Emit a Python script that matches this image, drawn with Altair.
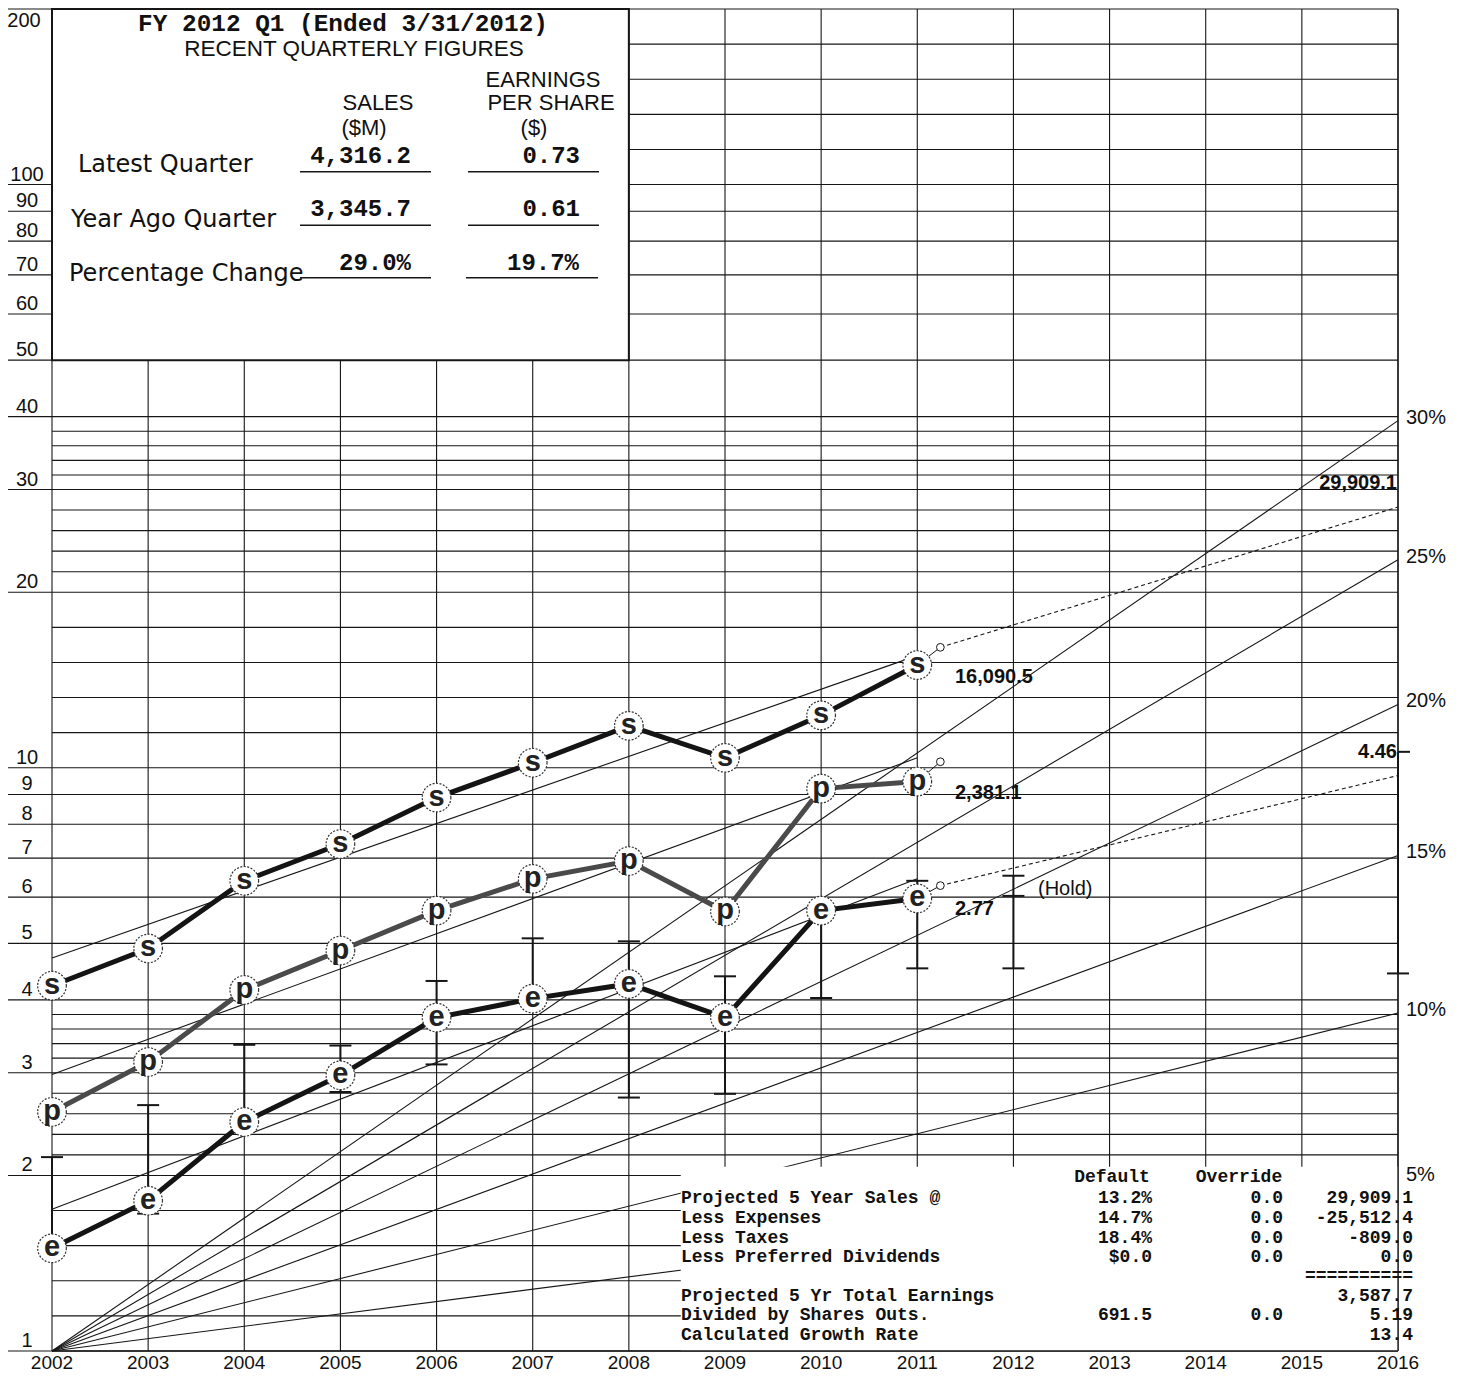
import altair as alt
import pandas as pd

# ---------------- data ----------------
years = [2002, 2003, 2004, 2005, 2006, 2007, 2008, 2009, 2010, 2011]
sales = [4.23, 4.90, 6.40, 7.40, 8.89, 10.2, 11.8, 10.4, 12.3, 15.0]
pretax = [2.57, 3.13, 4.16, 4.86, 5.69, 6.45, 6.92, 5.67, 9.21, 9.47]
eps = [1.50, 1.81, 2.47, 2.97, 3.73, 4.02, 4.26, 3.73, 5.69, 5.97]
price_high = [2.15, 2.64, 3.35, 3.34, 4.31, 5.10, 5.04, 4.39, 5.80, 6.40]
price_low = [1.55, 1.72, 2.50, 2.78, 3.10, 4.00, 2.72, 2.76, 4.03, 4.53]

hold_year = 2012
hold_ticks = [6.53, 6.03, 4.53]
proj_year = 2016
proj_range = [10.65, 4.44]

latest_x = 2011.24
latest_s, latest_p, latest_e = 16.09, 10.24, 6.28
proj_end_s, proj_end_e = 28.0, 9.7

trend_series = ["s", "p", "e"]
trend_start = [4.72, 2.98, 1.75]
trend_end = [15.57, 10.4, 6.45]

growth_rates = [5, 10, 15, 20, 25, 30]

axis_years = list(range(2002, 2017))
major_ticks = [1, 2, 3, 4, 5, 6, 7, 8, 9, 10, 20, 30, 40, 50, 60, 70, 80, 90, 100, 200]
sub_pairs = [(1, 2), (2, 3), (3, 4), (10, 20), (20, 30), (30, 40), (100, 200)]

# ---------------- layout helpers ----------------
W, H = 1346, 1342


def py(ry):
    return (ry - 3) * H / 1353.0


def px(rx):
    return rx - 52


xs = alt.Scale(domain=[2002, 2016], nice=False, zero=False)
ys = alt.Scale(type="log", domain=[1, 200], nice=False)


def X(f):
    return alt.X(f, type="quantitative", scale=xs, axis=None)


def Y(f):
    return alt.Y(f, type="quantitative", scale=ys, axis=None)


ONE = pd.DataFrame({"a": [0]})
INK = "#161616"
SANS = "Liberation Sans"
MONO = "Liberation Mono"
HUM = "DejaVu Sans"

layers = []

# ---------------- gridlines ----------------
grid_vals = list(major_ticks)
for a, b in sub_pairs:
    for k in range(1, 5):
        grid_vals.append(a * (b / a) ** (k / 5))
grid_df = pd.DataFrame({"v": grid_vals, "x0": 2002, "x1": 2016})

layers.append(
    alt.Chart(grid_df).mark_rule(color=INK, strokeWidth=1.1).encode(
        x=X("x0:Q"), x2="x1:Q", y=Y("v:Q"))
)
vgrid_df = pd.DataFrame({"x": axis_years, "y0": 1, "y1": 200, "lab": [str(y) for y in axis_years]})
layers.append(
    alt.Chart(vgrid_df).mark_rule(color=INK, strokeWidth=1.1).encode(
        x=X("x:Q"), y=Y("y0:Q"), y2="y1:Q")
)
layers.append(
    alt.Chart(vgrid_df).mark_text(align="center", baseline="top", fontSize=19, font=SANS,
                                  color="#111").encode(
        x=X("x:Q"), y=alt.value(H + 3), text="lab:N")
)

major_df = pd.DataFrame({"v": major_ticks, "lab": [str(m) for m in major_ticks]})
layers.append(
    alt.Chart(major_df).mark_rule(color=INK, strokeWidth=1.1).encode(
        x=alt.value(-44), x2=alt.value(0), y=Y("v:Q"))
)
layers.append(
    alt.Chart(major_df[major_df.v < 200]).mark_text(
        align="center", baseline="alphabetic", dy=-4, fontSize=20, font=SANS, color="#111"
    ).encode(x=alt.value(-25), y=Y("v:Q"), text="lab:N")
)
layers.append(
    alt.Chart(major_df[major_df.v == 200]).mark_text(
        align="center", baseline="top", dy=2, fontSize=20, font=SANS, color="#111"
    ).encode(x=alt.value(-28), y=Y("v:Q"), text="lab:N")
)

# ---------------- growth-rate rays ----------------
ray_rows = []
for r in growth_rates:
    ray_rows.append({"x": 2002, "v": 1.0, "rate": r})
    ray_rows.append({"x": 2016, "v": (1 + r / 100.0) ** 14, "rate": r})
ray_df = pd.DataFrame(ray_rows)
layers.append(
    alt.Chart(ray_df).mark_line(color=INK, strokeWidth=1.1).encode(
        x=X("x:Q"), y=Y("v:Q"), detail="rate:N")
)

# ---------------- trend lines ----------------
tr_rows = []
for sname, a, b in zip(trend_series, trend_start, trend_end):
    tr_rows.append({"x": 2002, "v": a, "ser": sname})
    tr_rows.append({"x": 2011, "v": b, "ser": sname})
layers.append(
    alt.Chart(pd.DataFrame(tr_rows)).mark_line(color=INK, strokeWidth=1.1).encode(
        x=X("x:Q"), y=Y("v:Q"), detail="ser:N")
)

# ---------------- projections (dotted) ----------------
pj_df = pd.DataFrame([
    {"x": latest_x, "v": latest_s, "ser": "s"}, {"x": 2016, "v": proj_end_s, "ser": "s"},
    {"x": latest_x, "v": latest_e, "ser": "e"}, {"x": 2016, "v": proj_end_e, "ser": "e"},
])
layers.append(
    alt.Chart(pj_df).mark_line(color=INK, strokeWidth=1.1, strokeDash=[4, 3]).encode(
        x=X("x:Q"), y=Y("v:Q"), detail="ser:N")
)

# ---------------- boxes ----------------
layers.append(
    alt.Chart(pd.DataFrame({"x0": [2002], "x1": [2008], "y0": [50], "y1": [200]})).mark_rect(
        fill="white", stroke=INK, strokeWidth=2).encode(
        x=X("x0:Q"), x2="x1:Q", y=Y("y0:Q"), y2="y1:Q")
)
layers.append(
    alt.Chart(pd.DataFrame({"x0": [2008.54], "x1": [2016], "y0": [1], "y1": [2.07]})).mark_rect(
        fill="white").encode(x=X("x0:Q"), x2="x1:Q", y=Y("y0:Q"), y2="y1:Q")
)
layers.append(
    alt.Chart(pd.DataFrame({"x": [2016], "y0": [1], "y1": [200]})).mark_rule(
        color=INK, strokeWidth=1.3).encode(x=X("x:Q"), y=Y("y0:Q"), y2="y1:Q")
)
layers.append(
    alt.Chart(pd.DataFrame({"x0": [2002], "x1": [2016], "v": [1]})).mark_rule(
        color=INK, strokeWidth=1.3).encode(x=X("x0:Q"), x2="x1:Q", y=Y("v:Q"))
)

# ---------------- price bars ----------------
bar_df = pd.DataFrame({"x": years, "lo": price_low, "hi": price_high})
layers.append(
    alt.Chart(bar_df).mark_rule(color=INK, strokeWidth=2).encode(
        x=X("x:Q"), y=Y("lo:Q"), y2="hi:Q")
)
cap_df = pd.DataFrame({"x": years * 2, "v": price_low + price_high})
hold_df = pd.DataFrame({"x": [hold_year] * 3, "v": hold_ticks})
cap_df = pd.concat([cap_df, hold_df, pd.DataFrame({"x": [proj_year], "v": [proj_range[1]]})])
layers.append(
    alt.Chart(cap_df).mark_rule(color=INK, strokeWidth=2, xOffset=-11, x2Offset=11).encode(
        x=X("x:Q"), x2="x:Q", y=Y("v:Q"))
)
layers.append(
    alt.Chart(pd.DataFrame({"x": [hold_year], "lo": [min(hold_ticks)], "hi": [max(hold_ticks)]})).mark_rule(
        color=INK, strokeWidth=2).encode(x=X("x:Q"), y=Y("lo:Q"), y2="hi:Q")
)
layers.append(
    alt.Chart(pd.DataFrame({"x": [proj_year], "lo": [proj_range[1]], "hi": [proj_range[0]]})).mark_rule(
        color=INK, strokeWidth=2).encode(x=X("x:Q"), y=Y("lo:Q"), y2="hi:Q")
)
layers.append(
    alt.Chart(pd.DataFrame({"x": [proj_year], "v": [proj_range[0]]})).mark_rule(
        color=INK, strokeWidth=2, xOffset=0, x2Offset=12).encode(x=X("x:Q"), x2="x:Q", y=Y("v:Q"))
)

# ---------------- series lines ----------------
series_df = pd.DataFrame({"x": years, "s": sales, "p": pretax, "e": eps})
for col, colr in [("s", "#141414"), ("p", "#4a4a4a"), ("e", "#141414")]:
    layers.append(
        alt.Chart(series_df).mark_line(color=colr, strokeWidth=5).encode(
            x=X("x:Q"), y=Y(f"{col}:Q"))
    )

# connectors to latest-quarter points
con_df = pd.DataFrame([
    {"x": 2011, "v": sales[-1], "ser": "s"}, {"x": latest_x, "v": latest_s, "ser": "s"},
    {"x": 2011, "v": pretax[-1], "ser": "p"}, {"x": latest_x, "v": latest_p, "ser": "p"},
    {"x": 2011, "v": eps[-1], "ser": "e"}, {"x": latest_x, "v": latest_e, "ser": "e"},
])
layers.append(
    alt.Chart(con_df).mark_line(color=INK, strokeWidth=1).encode(
        x=X("x:Q"), y=Y("v:Q"), detail="ser:N")
)
layers.append(
    alt.Chart(pd.DataFrame({"x": [latest_x] * 3, "v": [latest_s, latest_p, latest_e]})).mark_point(
        shape="circle", size=60, filled=True, fill="white", stroke=INK, strokeWidth=1, opacity=1).encode(
        x=X("x:Q"), y=Y("v:Q"))
)

# markers
mk_rows = []
for i, yr in enumerate(years):
    mk_rows.append({"x": yr, "v": sales[i], "L": "s"})
    mk_rows.append({"x": yr, "v": pretax[i], "L": "p"})
    mk_rows.append({"x": yr, "v": eps[i], "L": "e"})
mk_df = pd.DataFrame(mk_rows)
layers.append(
    alt.Chart(mk_df).mark_point(
        shape="circle", size=820, filled=True, fill="white", stroke="#333", strokeWidth=1.2,
        strokeDash=[2, 1.5], opacity=1).encode(x=X("x:Q"), y=Y("v:Q"))
)
layers.append(
    alt.Chart(mk_df).mark_text(
        fontSize=29, font=SANS, fontWeight="bold", baseline="alphabetic", dy=8, color="#222").encode(
        x=X("x:Q"), y=Y("v:Q"), text="L:N")
)

# growth-rate labels
gl_df = ray_df[ray_df.x == 2016].copy()
gl_df["lab"] = [f"{r}%" for r in growth_rates]
layers.append(
    alt.Chart(gl_df).mark_text(align="left", baseline="middle", dx=8, dy=-3, fontSize=20, font=SANS,
                               color="#111").encode(x=X("x:Q"), y=Y("v:Q"), text="lab:N")
)


# ---------------- texts ----------------
def txt(t, rx, ry, size, font, weight="normal", align="left", color="#111"):
    return alt.Chart(ONE).mark_text(
        text=t, align=align, baseline="middle", font=font, fontSize=size, fontWeight=weight, color=color
    ).encode(x=alt.value(px(rx)), y=alt.value(py(ry)))


def hline(x0, x1, ry, w=1.5):
    return alt.Chart(ONE).mark_rule(color=INK, strokeWidth=w).encode(
        x=alt.value(px(x0)), x2=alt.value(px(x1)), y=alt.value(py(ry)))


texts = [
    ("FY 2012 Q1 (Ended 3/31/2012)", 343, 18, 24.4, MONO, "bold", "center"),
    ("RECENT QUARTERLY FIGURES", 354, 43, 22.5, SANS, "normal", "center"),
    ("EARNINGS", 543, 75, 22, SANS, "normal", "center"),
    ("PER SHARE", 551, 98, 22, SANS, "normal", "center"),
    ("($)", 534, 123, 22, SANS, "normal", "center"),
    ("SALES", 378, 98, 22, SANS, "normal", "center"),
    ("($M)", 364, 123, 22, SANS, "normal", "center"),
    ("Latest Quarter", 78, 160, 24, HUM, "normal", "left"),
    ("Year Ago Quarter", 71, 216, 24, HUM, "normal", "left"),
    ("Percentage Change", 69, 270, 24, HUM, "normal", "left"),
    ("4,316.2", 411, 151, 24, MONO, "bold", "right"),
    ("0.73", 580, 151, 24, MONO, "bold", "right"),
    ("3,345.7", 411, 205, 24, MONO, "bold", "right"),
    ("0.61", 580, 205, 24, MONO, "bold", "right"),
    ("29.0%", 411, 259, 24, MONO, "bold", "right"),
    ("19.7%", 579, 259, 24, MONO, "bold", "right"),
    # callouts
    ("16,090.5", 955, 676, 20, SANS, "bold", "left"),
    ("2,381.1", 955, 793, 20, SANS, "bold", "left"),
    ("2.77", 955, 910, 20, SANS, "bold", "left"),
    ("(Hold)", 1038, 890, 20, SANS, "normal", "left"),
    ("4.46", 1397, 752, 20, SANS, "bold", "right"),
    ("29,909.1", 1397, 481, 20, SANS, "bold", "right"),
    # projection table
    ("Default", 1112, 1181, 18, MONO, "bold", "center"),
    ("Override", 1239, 1181, 18, MONO, "bold", "center"),
]
rows_left = ["Projected 5 Year Sales @", "Less Expenses", "Less Taxes", "Less Preferred Dividends",
             "Projected 5 Yr Total Earnings", "Divided by Shares Outs.", "Calculated Growth Rate"]
rows_y = [1202, 1222, 1242, 1261, 1301, 1320, 1340]
col_default = ["13.2%", "14.7%", "18.4%", "$0.0", "", "691.5", ""]
col_override = ["0.0", "0.0", "0.0", "0.0", "", "0.0", ""]
col_value = ["29,909.1", "-25,512.4", "-809.0", "0.0", "3,587.7", "5.19", "13.4"]
for lab, yy, d, o, v in zip(rows_left, rows_y, col_default, col_override, col_value):
    texts.append((lab, 681, yy, 18, MONO, "bold", "left"))
    if d:
        texts.append((d, 1152, yy, 18, MONO, "bold", "right"))
    if o:
        texts.append((o, 1283, yy, 18, MONO, "bold", "right"))
    texts.append((v, 1413, yy, 18, MONO, "bold", "right"))
texts.append(("==========", 1413, 1280, 18, MONO, "bold", "right"))

for t in texts:
    layers.append(txt(*t))

for (x0, x1, yy) in [(300, 431, 167), (468, 599, 167), (300, 431, 221), (468, 599, 221),
                     (300, 431, 274), (466, 598, 274)]:
    layers.append(hline(x0, x1, yy))

chart = alt.layer(*layers).properties(
    width=W, height=H,
    padding={"left": 44, "top": 1, "right": 55, "bottom": 25},
    autosize=alt.AutoSizeParams(type="none"),
    background="white",
).configure_view(stroke=None)

chart.save("out.html", embed_options={"renderer": "svg", "actions": False})
